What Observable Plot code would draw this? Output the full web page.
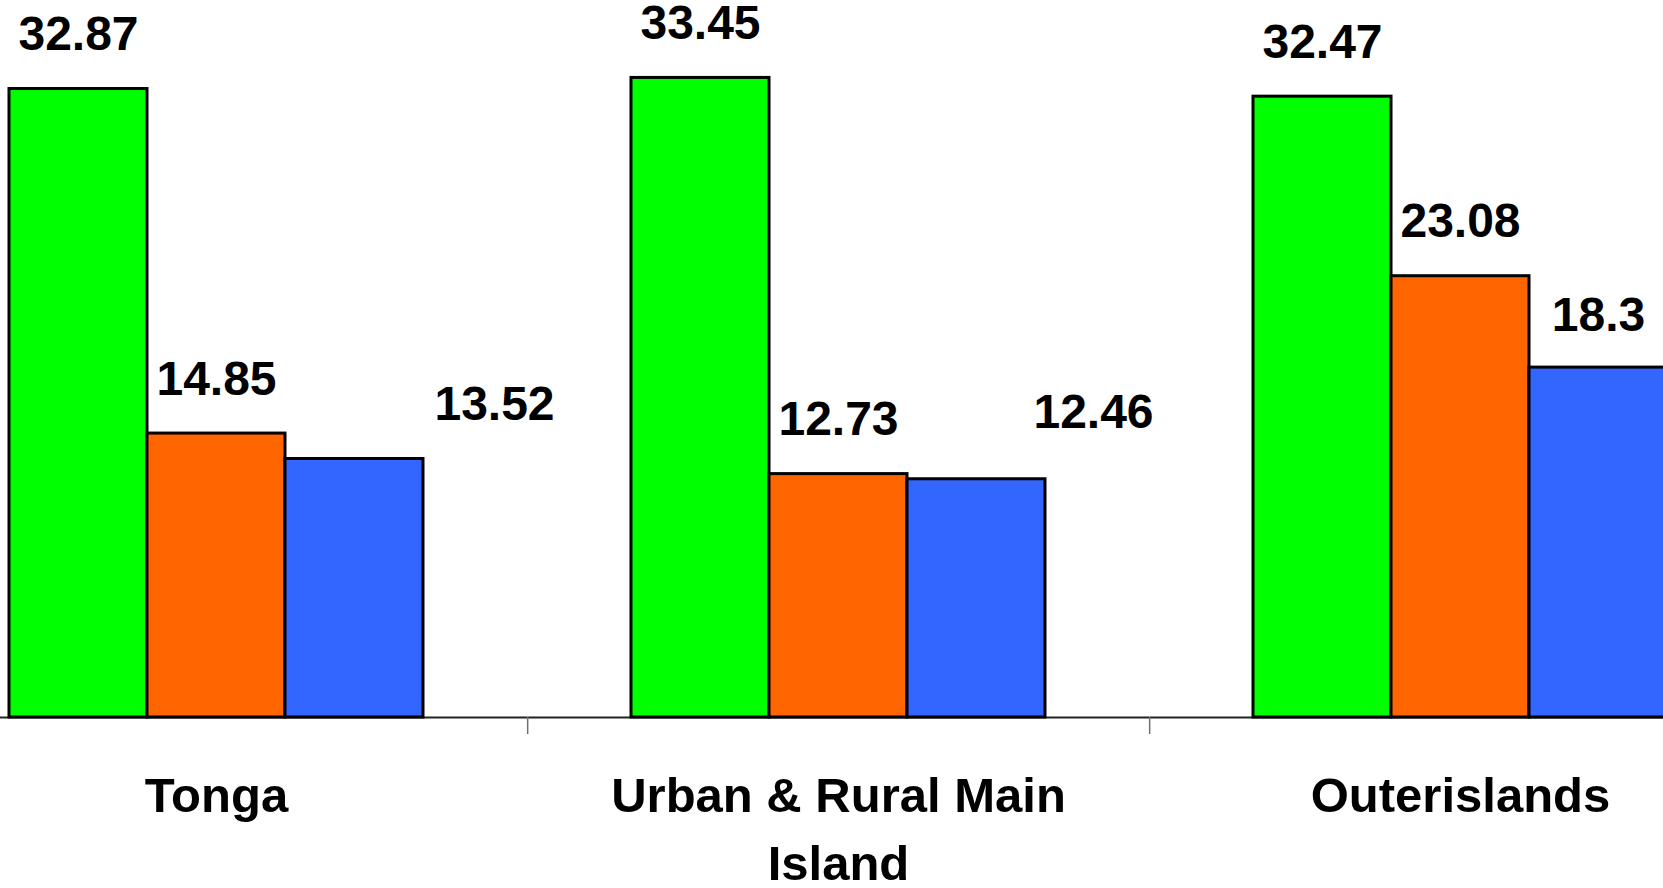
<!DOCTYPE html>
<html>
<head>
<meta charset="utf-8">
<script src="https://cdn.jsdelivr.net/npm/d3@7"></script>
<script src="https://cdn.jsdelivr.net/npm/@observablehq/plot@0.6"></script>
<style>
  html, body { margin: 0; padding: 0; background: #ffffff; overflow: hidden; }
  #chart svg { display: block; }
</style>
</head>
<body>
<div id="chart"></div>
<script>
// ---- data ----
const categories = ["Tonga", "Urban & Rural Main Island", "Outerislands"];
const categoryLabels = ["Tonga", "Urban & Rural Main\nIsland", "Outerislands"];
const seriesNames = ["Series 1", "Series 2", "Series 3"];
const seriesColors = ["#00ff00", "#ff6600", "#3366ff"];
const series1 = [32.87, 33.45, 32.47];
const series2 = [14.85, 12.73, 23.08];
const series3 = [13.52, 12.46, 18.3];

const seriesValues = [series1, series2, series3];
const data = [];
categories.forEach((c, i) => {
  seriesNames.forEach((s, j) => {
    data.push({category: c, series: s, value: seriesValues[j][i]});
  });
});

// ---- layout ----
const W = 1663, H = 888;
const mLeft = -95, mRight = -109, mTop = 0, mBottom = 171;
const padInner = 0.331, padOuter = padInner / 2;
const step = (W - mLeft - mRight) / (categories.length - padInner + 2 * padOuter);
const halfGap = step * padInner / 2;
const FONT = "'Liberation Sans', Arial, Helvetica, sans-serif";

const labelStyle = {
  fx: "category", x: "series", y: "value",
  text: d => String(d.value),
  lineAnchor: "bottom",
  fontSize: 48, fontWeight: "bold", fontFamily: FONT, fill: "black"
};

const chart = Plot.plot({
  width: W, height: H,
  marginLeft: mLeft, marginRight: mRight, marginTop: mTop, marginBottom: mBottom,
  fx: {domain: categories, paddingInner: padInner, paddingOuter: padOuter, label: null},
  x: {domain: seriesNames, padding: 0, axis: null},
  y: {domain: [0, 37.5], axis: null},
  color: {domain: seriesNames, range: seriesColors},
  style: {fontFamily: FONT, background: "white", overflow: "hidden"},
  marks: [
    // category axis line, spanning the whole width
    Plot.ruleY([0], {stroke: "#222", strokeWidth: 1.8, insetLeft: -halfGap, insetRight: -halfGap}),
    // ticks between categories
    Plot.axisFx({anchor: "bottom", tickSize: 17, tickFormat: () => "", label: null,
                 dx: step / 2, stroke: "#707070", strokeWidth: 1.5}),
    // bars
    Plot.barY(data, {fx: "category", x: "series", y: "value", fill: "series",
                     stroke: "black", strokeWidth: 3}),
    // value labels
    Plot.text(data.filter(d => d.series !== seriesNames[2]), {...labelStyle, dy: -39}),
    Plot.text(data.filter(d => d.series === seriesNames[2] && d.category === categories[0]), {...labelStyle, dx: 140, dy: -39}),
    Plot.text(data.filter(d => d.series === seriesNames[2] && d.category === categories[1]), {...labelStyle, dx: 117, dy: -51}),
    Plot.text(data.filter(d => d.series === seriesNames[2] && d.category === categories[2]), {...labelStyle, dy: -37}),
    // category labels
    Plot.text(categories, {
      fx: d => d,
      text: (d, i) => categoryLabels[i],
      frameAnchor: "bottom", lineAnchor: "top", dy: 46,
      fontSize: 49, fontWeight: "bold", fontFamily: FONT, fill: "black", lineHeight: 1.39
    })
  ]
});

document.getElementById("chart").appendChild(chart);
</script>
</body>
</html>
